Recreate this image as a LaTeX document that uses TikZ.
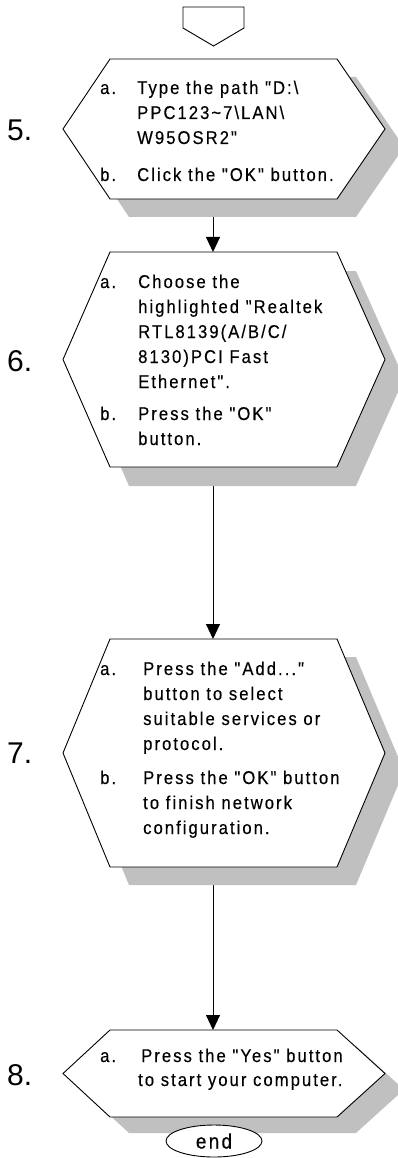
\documentclass[tikz,border=0pt]{standalone}
\usepackage{fontspec}
\setmainfont{Liberation Sans}[Ligatures=TeXOff, FakeStretch=0.9, LetterSpace=11, FakeBold=0.3]
\newfontfamily\numfont{Liberation Sans}[Ligatures=TeXOff]
\usetikzlibrary{arrows.meta,shapes.geometric}
\definecolor{shadowgray}{RGB}{192,192,192}
\tikzset{
  hexline/.style={draw=black, line width=0.9pt, fill=white, line join=miter},
  shadowfill/.style={fill=shadowgray, draw=none},
  ln/.style={anchor=base west, inner sep=0pt, font=\fontsize{18.5}{20}\selectfont},
  num/.style={anchor=base west, inner sep=0pt, font=\numfont\fontsize{30}{32}\selectfont},
  conn/.style={draw=black, line width=0.9pt, -{Triangle[length=15pt,width=14pt]}},
}
\newcommand{\hexpath}[2]{% top, bottom
  (63,{(#1+#2)/2}) -- (110,#1) -- (337,#1) -- (385,{(#1+#2)/2}) -- (337,#2) -- (110,#2) -- cycle}
\begin{document}
\begin{tikzpicture}[x=1pt,y=-1pt]
\useasboundingbox (0,0) rectangle (398,1158);
% connection points
\coordinate (p5b) at (213,199);
\coordinate (p6t) at (213,252);
\coordinate (p6b) at (213,467);
\coordinate (p7t) at (213,639);
\coordinate (p7b) at (213,867);
\coordinate (p8t) at (213,1030);
% connectors
\draw[conn] (p5b) -- (p6t);
\draw[conn] (p6b) -- (p7t);
\draw[conn] (p7b) -- (p8t);
% off-page connector
\draw[line width=0.9pt] (183,7) -- (244,7) -- (244,28) -- (213.5,46) -- (183,28) -- cycle;
% shadows
\fill[shadowfill, shift={(19,18)}] \hexpath{59}{199};
\fill[shadowfill, shift={(19,19)}] \hexpath{252}{467};
\fill[shadowfill, shift={(19,18)}] \hexpath{639}{867};
\fill[shadowfill, shift={(19,16)}] \hexpath{1030}{1117};
% boxes
\path[hexline] \hexpath{59}{199};
\path[hexline] \hexpath{252}{467};
\path[hexline] \hexpath{639}{867};
\path[hexline] \hexpath{1030}{1117};
% numbers
\node[num] (n5) at (7,141) {5.};
\node[num] (n6) at (7,371) {6.};
\node[num] (n7) at (7,763) {7.};
\node[num] (n8) at (7,1085) {8.};
% box 5
\node[ln] (t5a) at (100,94) {a.};
\node[ln] (t5a1) at (137,94) {Type the path "D:\textbackslash};
\node[ln] (t5a2) at (137,119) {PPC123\textasciitilde 7\textbackslash LAN\textbackslash};
\node[ln] (t5a3) at (137,144) {W95OSR2"};
\node[ln] (t5b) at (100,181) {b.};
\node[ln] (t5b1) at (137,181) {Click the "OK" button.};
% box 6
\node[ln] (t6a) at (100,288) {a.};
\node[ln] (t6a1) at (138,288) {Choose the};
\node[ln] (t6a2) at (138,313) {highlighted "Realtek};
\node[ln] (t6a3) at (138,338) {RTL8139(A/B/C/};
\node[ln] (t6a4) at (138,363) {8130)PCI Fast};
\node[ln] (t6a5) at (138,388) {Ethernet".};
\node[ln] (t6b) at (100,420) {b.};
\node[ln] (t6b1) at (138,420) {Press the "OK"};
\node[ln] (t6b2) at (138,445) {button.};
% box 7
\node[ln] (t7a) at (100,675) {a.};
\node[ln] (t7a1) at (143,675) {Press the "Add..."};
\node[ln] (t7a2) at (143,700) {button to select};
\node[ln] (t7a3) at (143,725) {suitable services or};
\node[ln] (t7a4) at (143,750) {protocol.};
\node[ln] (t7b) at (100,784) {b.};
\node[ln] (t7b1) at (143,784) {Press the "OK" button};
\node[ln] (t7b2) at (143,809) {to finish network};
\node[ln] (t7b3) at (143,834) {configuration.};
% box 8
\node[ln] (t8a) at (100,1062) {a.};
\node[ln] (t8a1) at (141,1062) {Press the "Yes" button};
\node[ln] (t8a2) at (138,1086) {to start your computer.};
% end
\node[draw=black, line width=0.9pt, fill=white, ellipse, minimum width=96pt, minimum height=32pt, inner sep=0pt, font=\fontsize{21}{23}\selectfont] (endn) at (214,1141) {end};
\end{tikzpicture}
\end{document}
